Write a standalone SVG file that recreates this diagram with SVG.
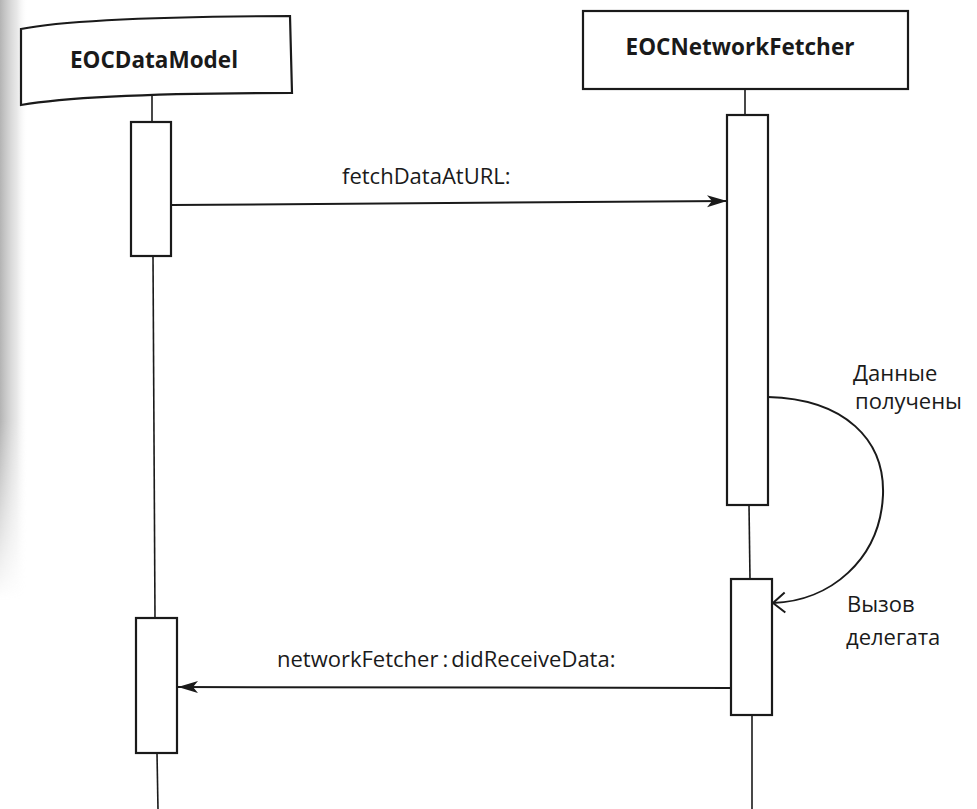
<svg xmlns="http://www.w3.org/2000/svg" width="977" height="809" viewBox="0 0 977 809">
  <defs>
    <style>
      .frame { fill: #ffffff; stroke: #1a1a1a; stroke-width: 2.2; stroke-linejoin: miter; }
      .act { fill: #ffffff; stroke: #1a1a1a; stroke-width: 2.2; }
      .life { fill: none; stroke: #1a1a1a; stroke-width: 1.6; }
      .msg { fill: none; stroke: #1a1a1a; stroke-width: 2; }
      .title { font-family: "Open Sans", "Liberation Sans", sans-serif; font-weight: bold; font-size: 22.5px; fill: #1a1a1a; text-anchor: middle; }
      .label { font-family: "Open Sans", "Liberation Sans", sans-serif; font-size: 22px; fill: #1a1a1a; }
    </style>
    <marker id="barb" markerUnits="userSpaceOnUse" markerWidth="22" markerHeight="14" refX="20" refY="6" orient="auto">
      <path d="M0,0 L20,6 L0,12 L5,6 Z" fill="#1a1a1a"/>
    </marker>
    <marker id="open" markerUnits="userSpaceOnUse" markerWidth="16" markerHeight="24" refX="13" refY="11" orient="auto">
      <path d="M1,1 L13,11 L1,21" fill="none" stroke="#1a1a1a" stroke-width="2"/>
    </marker>
    <linearGradient id="edgeShade" x1="0" y1="0" x2="1" y2="0">
      <stop offset="0" stop-color="#9a9a9a" stop-opacity="0.75"/>
      <stop offset="0.6" stop-color="#bdbdbd" stop-opacity="0.35"/>
      <stop offset="1" stop-color="#ffffff" stop-opacity="0"/>
    </linearGradient>
    <linearGradient id="edgeFade" x1="0" y1="0" x2="0" y2="1">
      <stop offset="0" stop-color="#fff"/>
      <stop offset="0.7" stop-color="#fff"/>
      <stop offset="1" stop-color="#000"/>
    </linearGradient>
    <mask id="edgeMask">
      <rect x="0" y="0" width="40" height="600" fill="url(#edgeFade)"/>
    </mask>
  </defs>

  <rect x="0" y="0" width="977" height="809" fill="#ffffff"/>
  <!-- shaded page margin on the left -->
  <rect x="0" y="0" width="28" height="600" fill="url(#edgeShade)" mask="url(#edgeMask)"/>

  <!-- lifelines and messages -->
  <g id="connectors">
    <line class="life" x1="152" y1="95" x2="152" y2="122"/>
    <line class="life" x1="153" y1="256" x2="155" y2="618"/>
    <line class="life" x1="157" y1="753" x2="158" y2="809"/>
    <line class="life" x1="745" y1="89" x2="745" y2="115"/>
    <line class="life" x1="749" y1="505" x2="750" y2="579"/>
    <line class="life" x1="752" y1="715" x2="752" y2="809"/>

    <line class="msg" x1="171" y1="205" x2="727" y2="201" marker-end="url(#barb)"/>
    <path class="msg" d="M768,397 C845,399 885,440 883,495 C880,560 830,601 773,603" marker-end="url(#open)"/>
    <line class="msg" x1="731" y1="688" x2="178" y2="687" marker-end="url(#barb)"/>
  </g>

  <g id="data-model">
    <path class="frame" d="M21,29 Q80,17 290,16 L292,93 Q90,93 21,105 Z"/>
    <text class="title" x="154" y="68">EOCDataModel</text>
  </g>

  <g id="network-fetcher">
    <rect class="frame" x="583" y="11" width="325" height="78"/>
    <text class="title" x="740" y="55">EOCNetworkFetcher</text>
  </g>

  <g id="model-activation-1"><rect class="act" x="131" y="122" width="40" height="134"/></g>
  <g id="model-activation-2"><rect class="act" x="136" y="618" width="41" height="135"/></g>
  <g id="fetcher-activation-1"><rect class="act" x="727" y="115" width="41" height="390"/></g>
  <g id="fetcher-activation-2"><rect class="act" x="731" y="579" width="41" height="136"/></g>

  <g id="labels">
    <text class="label" x="342" y="184">fetchDataAtURL:</text>
    <text class="label" x="277" y="667">networkFetcher<tspan dx="4">:</tspan><tspan dx="3">didReceiveData:</tspan></text>
    <text class="label" x="853" y="381">Данные</text>
    <text class="label" x="855" y="409">получены</text>
    <text class="label" x="847" y="612">Вызов</text>
    <text class="label" x="846" y="645">делегата</text>
  </g>
</svg>
